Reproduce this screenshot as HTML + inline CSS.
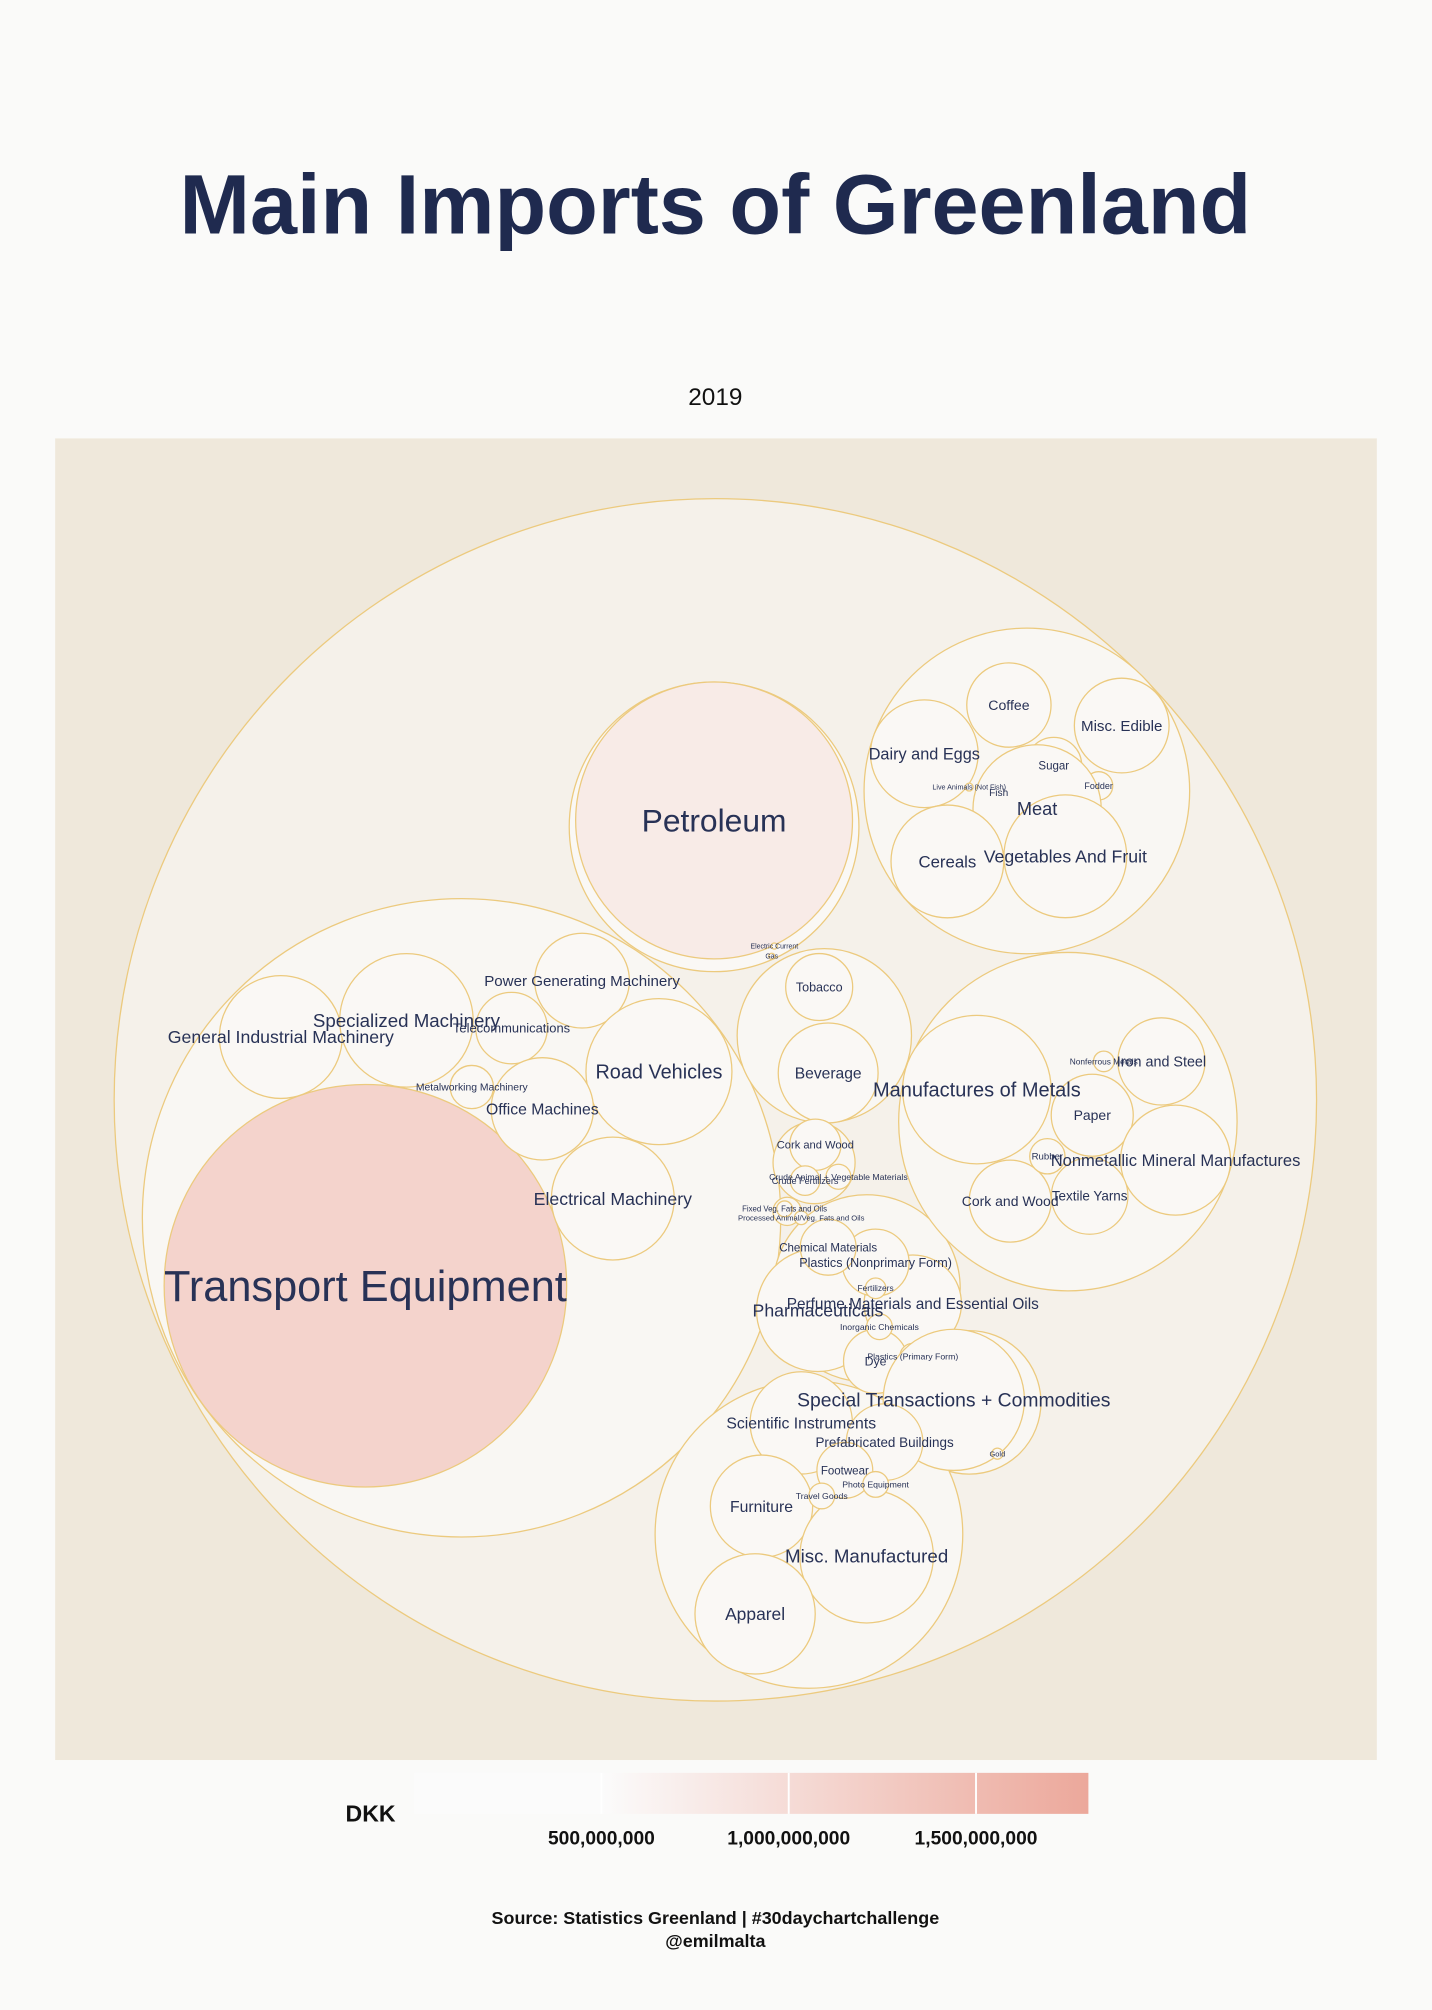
<!DOCTYPE html>
<html><head><meta charset="utf-8">
<style>
html,body{margin:0;padding:0;background:#fafaf9;}
svg{display:block;}
</style></head>
<body>
<svg id="chart" width="1432" height="2010" viewBox="0 0 1117 1568" xmlns="http://www.w3.org/2000/svg">
<defs>
<linearGradient id="lg" x1="0" x2="1" y1="0" y2="0">
<stop offset="0" stop-color="#fbfbfb"/><stop offset="0.28" stop-color="#fbfbfb"/>
<stop offset="1" stop-color="#eca89b"/>
</linearGradient>
</defs>
<rect x="0" y="0" width="1117" height="1568" fill="#fafaf9"/>
<text x="558" y="182" text-anchor="middle" font-family="'Liberation Sans',sans-serif" font-weight="bold" font-size="66" fill="#1f2a4f">Main Imports of Greenland</text>
<text x="558" y="316" text-anchor="middle" font-family="'Liberation Sans',sans-serif" font-size="19" fill="#111">2019</text>
<rect x="43" y="342" width="1031" height="1031" fill="#efe8db"/>
<g id="groups"></g>
<g id="leaves"></g>
<g>
<text x="289" y="1421" text-anchor="middle" font-family="'Liberation Sans',sans-serif" font-weight="bold" font-size="18" fill="#111">DKK</text>
<rect x="323" y="1383" width="526" height="32" fill="url(#lg)"/>
<g id="legendTicks"></g>
</g>
<text x="558" y="1501" text-anchor="middle" font-family="'Liberation Sans',sans-serif" font-weight="bold" font-size="14" fill="#111">Source: Statistics Greenland | #30daychartchallenge</text>
<text x="558" y="1519" text-anchor="middle" font-family="'Liberation Sans',sans-serif" font-weight="bold" font-size="14" fill="#111">@emilmalta</text>
</svg>
<script>
// data
const names = ["Transport Equipment","Petroleum","Coffee","Misc. Edible","Dairy and Eggs","Sugar","Fodder","Fish","Meat","Vegetables And Fruit","Cereals","Live Animals (Not Fish)",
"General Industrial Machinery","Specialized Machinery","Power Generating Machinery","Telecommunications","Road Vehicles","Metalworking Machinery","Office Machines","Electrical Machinery",
"Tobacco","Beverage","Cork and Wood","Crude Fertilizers","Crude Animal + Vegetable Materials","Fixed Veg. Fats and Oils","Processed Animal/Veg. Fats and Oils",
"Pharmaceuticals","Perfume Materials and Essential Oils","Plastics (Nonprimary Form)","Chemical Materials","Dye","Fertilizers","Inorganic Chemicals","Plastics (Primary Form)",
"Special Transactions + Commodities","Gold","Scientific Instruments","Prefabricated Buildings","Furniture","Misc. Manufactured","Apparel","Footwear","Travel Goods","Photo Equipment",
"Manufactures of Metals","Iron and Steel","Paper","Nonmetallic Mineral Manufactures","Textile Yarns","Cork and Wood","Rubber","Nonferrous Metals","Electric Current","Gas"];
const values = [1300e6,615e6,57e6,72e6,93e6,25e6,6.4e6,13.5e6,132e6,121e6,102e6,0.5e6,
121e6,143e6,72e6,41e6,171e6,15e6,84e6,121e6,
36e6,80e6,21e6,7e6,5e6,2e6,1.5e6,
121e6,76e6,36e6,25e6,33e6,3.4e6,5.3e6,5.3e6,
160e6,1e6,84e6,47e6,84e6,143e6,116e6,25e6,5.3e6,5.3e6,
177e6,61e6,54e6,97e6,47e6,54e6,10e6,3.4e6,0.3e6,0.3e6];
const legendTicks = [500e6,1000e6,1500e6];
const legendLabels = ["500,000,000","1,000,000,000","1,500,000,000"];
// layout (packing centers)
const cx = [285,557,787,875,721,822,857,779,809,831,739,756, 219,317,454,399,514,368,423,478, 639,646,636,628,654,612,625, 638,712,683,646,683,683,686,712, 744,778,625,690,594,676,589,659,641,683, 762,906,852,917,850,788,817,861,604,602];
const cy = [1003,640,550,566,588,597,613,618,631,668,672,614, 809,796,765,802,836,848,865,935, 770,837,893,921,918,943,950, 1022,1017,985,973,1062,1005,1035,1058, 1092,1134,1110,1125,1175,1214,1259,1147,1167,1158, 850,828,870,905,933,937,902,828,738,746];

const NS="http://www.w3.org/2000/svg";
const K = 157/Math.sqrt(1300e6);
const rScale = v => K*Math.sqrt(v);
function color(v){
  const t2 = Math.max(0, Math.min(1,(v-250e6)/2280e6));
  const a=[250,248,245], b=[236,168,155];
  if(t2===0) return "#faf8f5";
  const c=a.map((x,i)=>Math.round(x+(b[i]-x)*t2));
  return `rgb(${c[0]},${c[1]},${c[2]})`;
}
// parent groups
const groupNames=["all-imports","petroleum-group","food-group","machinery-group","beverage-tobacco-group","crude-materials-group","fats-oils-group","chemicals-group","special-transactions-group","misc-manufactured-group","manufactured-goods-group"];
const gx=[558,557,801,360,643,635,614,676,756,631,833];
const gy=[858,645,617,950,808,907,945,1005,1094,1197,875];
const gr=[469,113,127,249,68,32,11,73,56,120,132];
const gfill=["#f5f1ea","#faf8f5","#f9f7f3","#f9f7f3","#f9f7f3","#f9f7f3","#f9f7f3","#f9f7f3","#f9f7f3","#f9f7f3","#f9f7f3"];
const G=document.getElementById("groups");
for(let i=0;i<gx.length;i++){
  const c=document.createElementNS(NS,"circle");
  
  
  c.setAttribute("cx",gx[i]);c.setAttribute("cy",gy[i]);c.setAttribute("r",gr[i]);
  c.setAttribute("fill",gfill[i]);c.setAttribute("stroke","#ecca7e");c.setAttribute("stroke-width","1");
  G.appendChild(c);
}
const L=document.getElementById("leaves");
for(let i=0;i<names.length;i++){
  const c=document.createElementNS(NS,"circle");
  const slug=names[i].toLowerCase().replace(/[^a-z0-9]+/g,'-').replace(/-+$/,'');
  
  
  c.setAttribute("cx",cx[i]);c.setAttribute("cy",cy[i]);c.setAttribute("r",rScale(values[i]));
  c.setAttribute("fill",color(values[i]));c.setAttribute("stroke","#ecca7e");c.setAttribute("stroke-width","1");
  L.appendChild(c);
}
for(let i=0;i<names.length;i++){
  const t=document.createElementNS(NS,"text");
  const slug=names[i].toLowerCase().replace(/[^a-z0-9]+/g,'-').replace(/-+$/,'');
  
  
  const fs=Math.max(5,5+Math.sqrt(values[i])/1250);
  t.setAttribute("x",cx[i]);t.setAttribute("y",cy[i]+fs*0.35);
  t.setAttribute("text-anchor","middle");t.setAttribute("font-size",fs.toFixed(1));
  t.setAttribute("font-family","'Liberation Sans',sans-serif");t.setAttribute("fill","#283256");
  t.textContent=names[i];
  L.appendChild(t);
}
// legend ticks
const LT=document.getElementById("legendTicks");
const lx = v => 323 + v/1800e6*526;
for(let i=0;i<legendTicks.length;i++){
  const x=lx(legendTicks[i]);
  const l=document.createElementNS(NS,"line");
  
  
  l.setAttribute("x1",x);l.setAttribute("x2",x);l.setAttribute("y1",1383);l.setAttribute("y2",1415);
  l.setAttribute("stroke","#ffffff");l.setAttribute("stroke-width","1.5");
  LT.appendChild(l);
  const t=document.createElementNS(NS,"text");
  
  
  t.setAttribute("x",x);t.setAttribute("y",1439);t.setAttribute("text-anchor","middle");
  t.setAttribute("font-size","15");t.setAttribute("font-weight","bold");
  t.setAttribute("font-family","'Liberation Sans',sans-serif");t.setAttribute("fill","#111");
  t.textContent=legendLabels[i];
  LT.appendChild(t);
}
</script>
</body></html>
